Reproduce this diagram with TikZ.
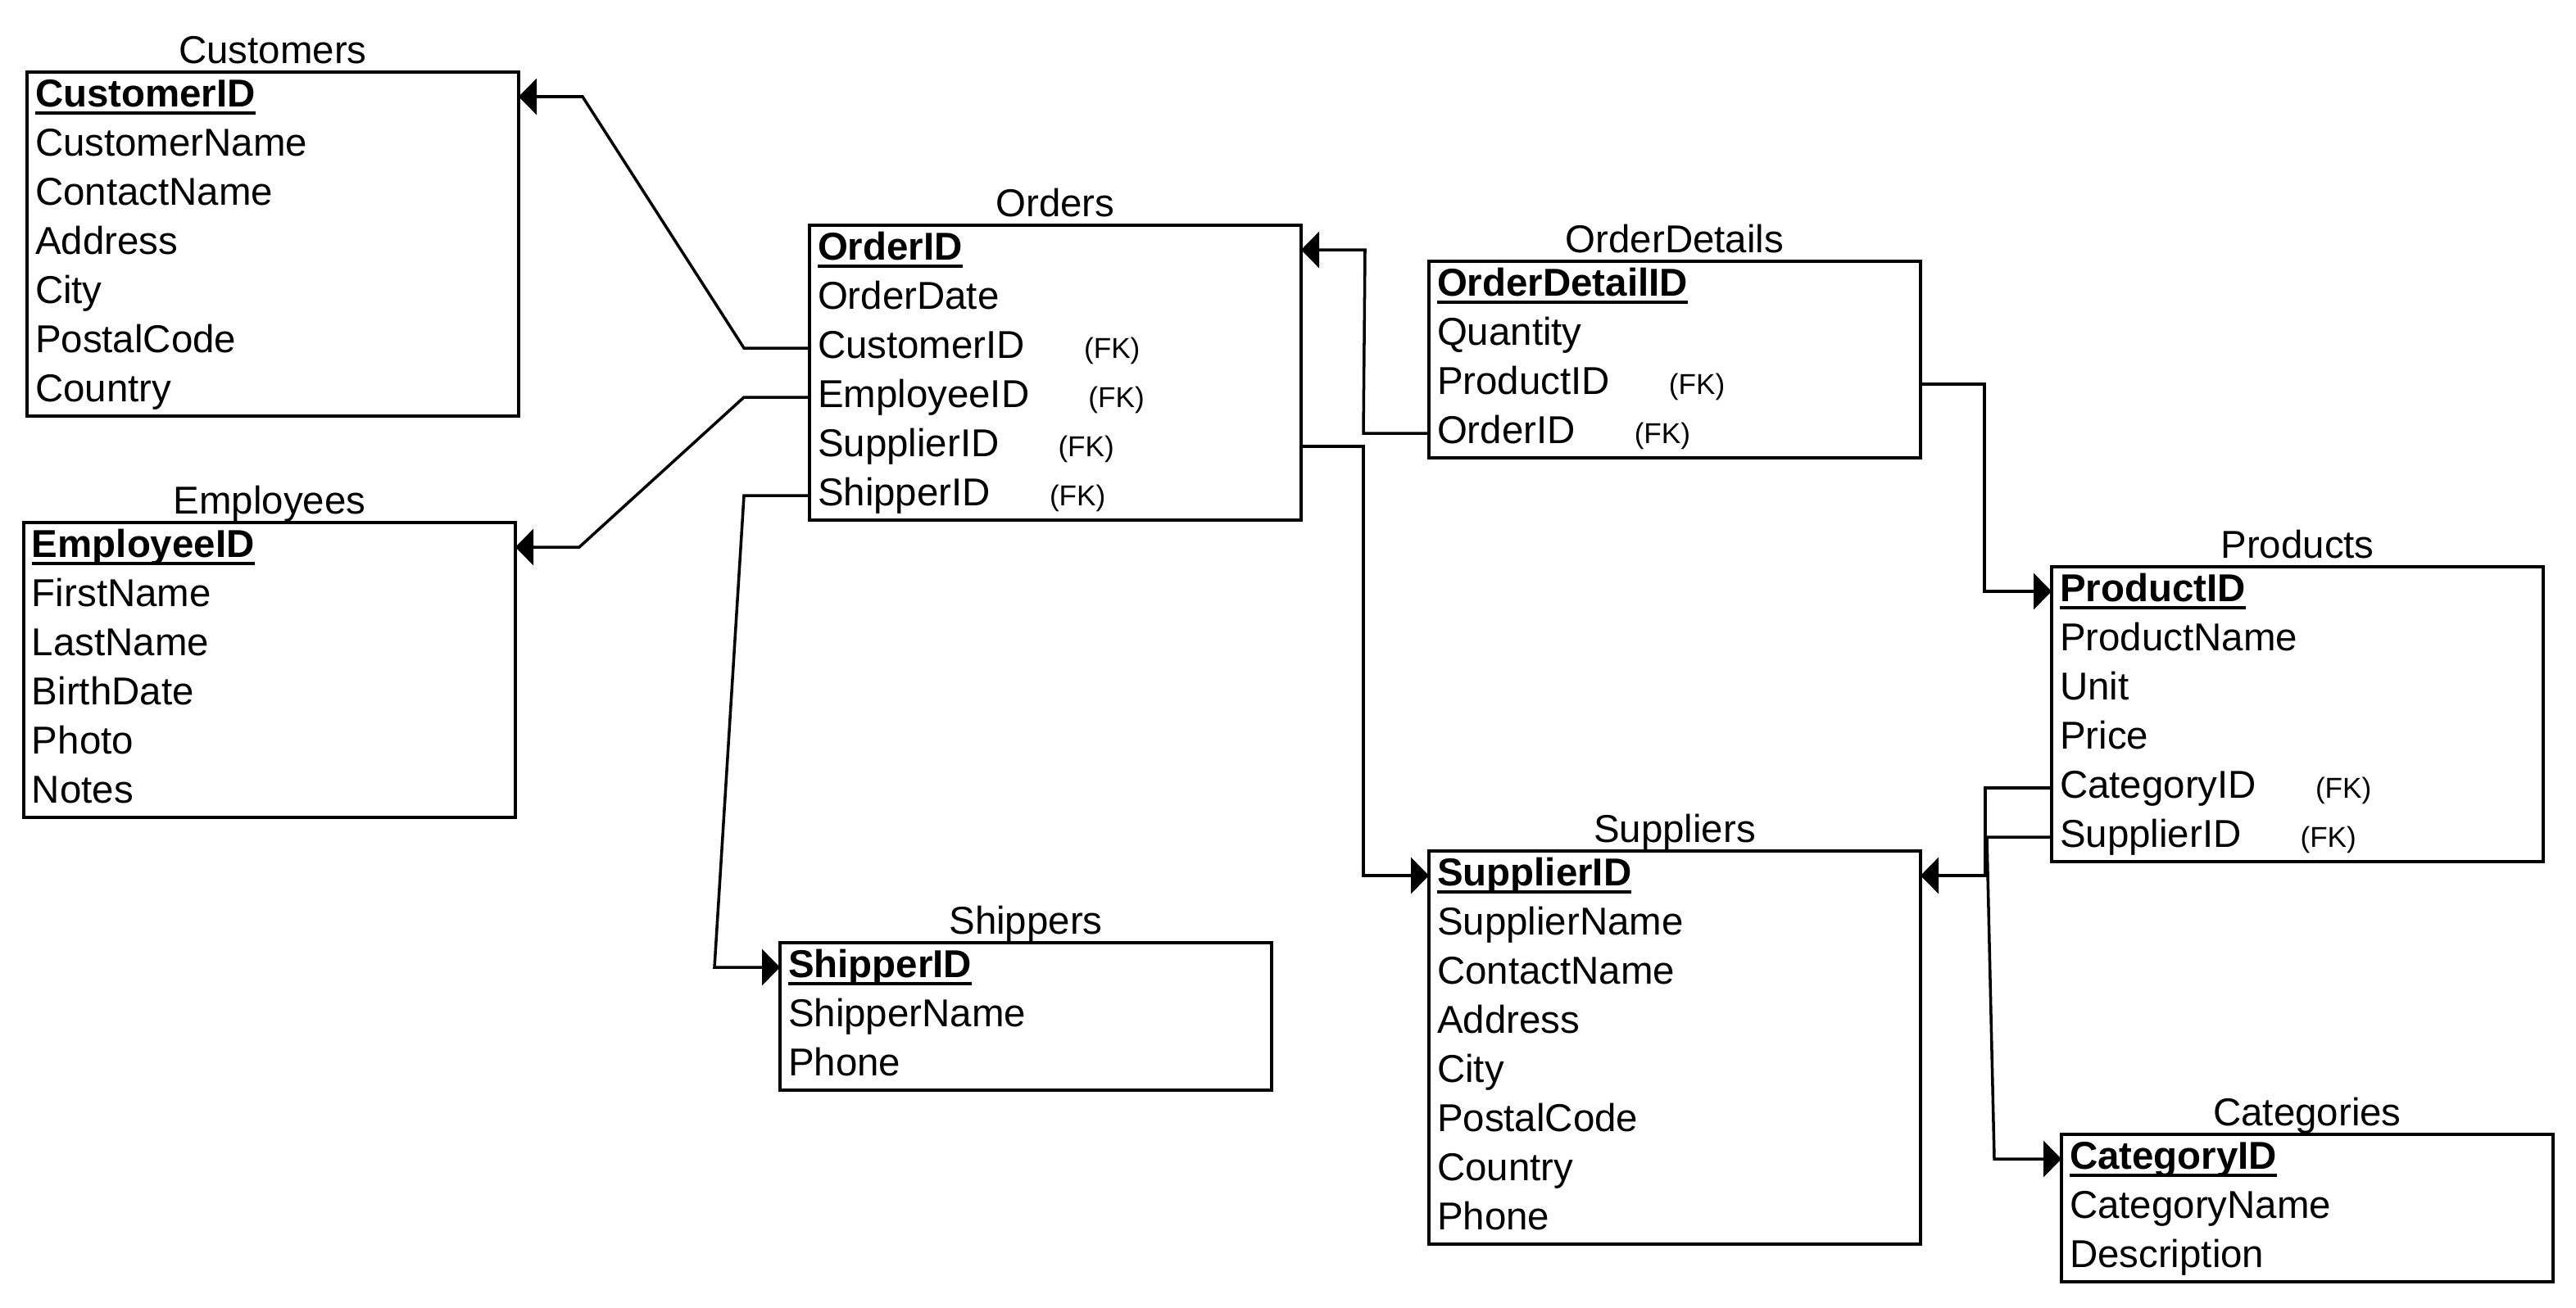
\documentclass[tikz,border=0pt]{standalone}
\usepackage{fontspec}
\setmainfont{Liberation Sans}
\usetikzlibrary{arrows.meta,positioning,fit}
\tikzset{
    field/.style={
           rectangle,
           minimum width=6cm,
           text width=5.8cm,
           minimum height=0.6cm,
           inner xsep=0.1cm, inner ysep=0pt, outer sep=0pt,
           text height=0.9em, text depth=0.2em,
           align=left,
           },
    entity/.style={draw=black, line width=1.2pt, inner sep=0pt},
    title/.style={inner sep=0pt, text height=0.75em, text depth=0.22em},
    link/.style={-{Triangle[length=0.22cm,width=0.44cm]}, line width=1pt},
}
\newlength{\pkwidth}
\newcommand{\fk}{\hspace{0.72cm}{\fontsize{10}{12}\selectfont(FK)}}
\newcommand{\pk}[1]{\settowidth{\pkwidth}{\textbf{#1}}%
  \textbf{#1}\hspace{-\pkwidth}\rule[-0.2em]{\pkwidth}{1pt}}

\begin{document}
\begin{tikzpicture}[font=\fontsize{13.5}{16}\selectfont]
  \useasboundingbox (0,0) rectangle (31.44,-15.96);

  % Customers
  \node[field] (cu1) at (3.33,-1.18) {\pk{CustomerID}};
  \node[field, below=0pt of cu1] (cu2) {CustomerName};
  \node[field, below=0pt of cu2] (cu3) {ContactName};
  \node[field, below=0pt of cu3] (cu4) {Address};
  \node[field, below=0pt of cu4] (cu5) {City};
  \node[field, below=0pt of cu5] (cu6) {PostalCode};
  \node[field, below=0pt of cu6] (cu7) {Country};
  \node[entity, fit=(cu1)(cu7)] (customers) {};
  \node[title, above=0pt of customers] {Customers};

  % Employees
  \node[field] (em1) at (3.29,-6.68) {\pk{EmployeeID}};
  \node[field, below=0pt of em1] (em2) {FirstName};
  \node[field, below=0pt of em2] (em3) {LastName};
  \node[field, below=0pt of em3] (em4) {BirthDate};
  \node[field, below=0pt of em4] (em5) {Photo};
  \node[field, below=0pt of em5] (em6) {Notes};
  \node[entity, fit=(em1)(em6)] (employees) {};
  \node[title, above=0pt of employees] {Employees};

  % Orders
  \node[field] (or1) at (12.88,-3.05) {\pk{OrderID}};
  \node[field, below=0pt of or1] (or2) {OrderDate};
  \node[field, below=0pt of or2] (or3) {CustomerID\fk};
  \node[field, below=0pt of or3] (or4) {EmployeeID\fk};
  \node[field, below=0pt of or4] (or5) {SupplierID\fk};
  \node[field, below=0pt of or5] (or6) {ShipperID\fk};
  \node[entity, fit=(or1)(or6)] (orders) {};
  \node[title, above=0pt of orders] {Orders};

  % OrderDetails
  \node[field] (od1) at (20.44,-3.49) {\pk{OrderDetailID}};
  \node[field, below=0pt of od1] (od2) {Quantity};
  \node[field, below=0pt of od2] (od3) {ProductID\fk};
  \node[field, below=0pt of od3] (od4) {OrderID\fk};
  \node[entity, fit=(od1)(od4)] (orderdetails) {};
  \node[title, above=0pt of orderdetails] {OrderDetails};

  % Products
  \node[field] (pr1) at (28.04,-7.22) {\pk{ProductID}};
  \node[field, below=0pt of pr1] (pr2) {ProductName};
  \node[field, below=0pt of pr2] (pr3) {Unit};
  \node[field, below=0pt of pr3] (pr4) {Price};
  \node[field, below=0pt of pr4] (pr5) {CategoryID\fk};
  \node[field, below=0pt of pr5] (pr6) {SupplierID\fk};
  \node[entity, fit=(pr1)(pr6)] (products) {};
  \node[title, above=0pt of products] {Products};

  % Suppliers
  \node[field] (su1) at (20.44,-10.69) {\pk{SupplierID}};
  \node[field, below=0pt of su1] (su2) {SupplierName};
  \node[field, below=0pt of su2] (su3) {ContactName};
  \node[field, below=0pt of su3] (su4) {Address};
  \node[field, below=0pt of su4] (su5) {City};
  \node[field, below=0pt of su5] (su6) {PostalCode};
  \node[field, below=0pt of su6] (su7) {Country};
  \node[field, below=0pt of su7] (su8) {Phone};
  \node[entity, fit=(su1)(su8)] (suppliers) {};
  \node[title, above=0pt of suppliers] {Suppliers};

  % Shippers
  \node[field] (sh1) at (12.52,-11.81) {\pk{ShipperID}};
  \node[field, below=0pt of sh1] (sh2) {ShipperName};
  \node[field, below=0pt of sh2] (sh3) {Phone};
  \node[entity, fit=(sh1)(sh3)] (shippers) {};
  \node[title, above=0pt of shippers] {Shippers};

  % Categories
  \node[field] (ca1) at (28.16,-14.15) {\pk{CategoryID}};
  \node[field, below=0pt of ca1] (ca2) {CategoryName};
  \node[field, below=0pt of ca2] (ca3) {Description};
  \node[entity, fit=(ca1)(ca3)] (categories) {};
  \node[title, above=0pt of categories] {Categories};

  % relations
  \draw[link] (or3.west) -- ++(-0.8,0) -- ([xshift=0.78cm]cu1.east) -- (cu1.east);
  \draw[link] (or4.west) -- ++(-0.8,0) -- ([xshift=0.78cm]em1.east) -- (em1.east);
  \draw[link] (or6.west) -- ++(-0.8,0) -- ([xshift=-0.8cm]sh1.west) -- (sh1.west);
  \draw[link] (od4.west) -- ++(-0.8,0) -- ([xshift=0.78cm]or1.east) -- (or1.east);
  \draw[link] (or5.east) -- ++(0.76,0) |- (su1.west);
  \draw[link] (od3.east) -- ++(0.78,0) |- (pr1.west);
  \draw[link] (pr5.west) -- ++(-0.81,0) |- (su1.east);
  \draw[link] (pr6.west) -- ++(-0.79,0) -- ([xshift=-0.82cm]ca1.west) -- (ca1.west);

\end{tikzpicture}
\end{document}
